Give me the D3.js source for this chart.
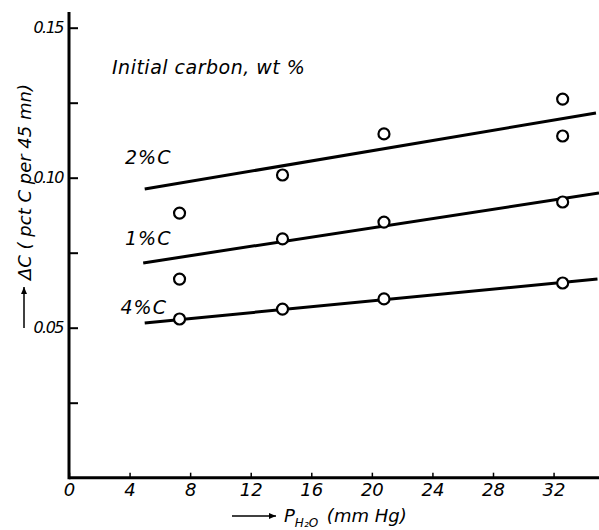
<!DOCTYPE html>
<html><head><meta charset="utf-8">
<script src="https://cdn.jsdelivr.net/npm/d3@7"></script>
<style>
html,body{margin:0;padding:0;background:#fff;}
svg{display:block;}
text{font-family:"DejaVu Sans","Liberation Sans",sans-serif;font-style:italic;fill:#000;}
</style></head>
<body><svg id="chart" width="599" height="530"></svg>
<script>
// ---- data ----
const xTicks = [0, 4, 8, 12, 16, 20, 24, 28, 32];
const yTicks = [0.025, 0.05, 0.075, 0.10, 0.125, 0.15];
const yTickLabels = {0.05: "0.05", 0.10: "0.10", 0.15: "0.15"};
const seriesNames = ["2%C", "1%C", "4%C"];
const pts2 = [[7.3, 0.0882], [14.1, 0.1009], [20.8, 0.1146], [32.6, 0.1262], [32.6, 0.1139]];
const pts1 = [[7.3, 0.0662], [14.1, 0.0796], [20.8, 0.0852], [32.6, 0.0919]];
const pts4 = [[7.3, 0.0529], [14.1, 0.0562], [20.8, 0.0596], [32.6, 0.0649]];
const fit2 = [[5.0, 0.0962], [34.8, 0.1216]];
const fit1 = [[4.9, 0.0716], [35.0, 0.0949]];
const fit4 = [[5.0, 0.0516], [34.9, 0.0662]];
const labelPos = [[3.7, 0.1045], [3.7, 0.0775], [3.4, 0.0545]];
const legendTitle = "Initial  carbon,  wt %";

// ---- scales ----
const svg = d3.select("#chart");
const x = d3.scaleLinear().domain([0, 35]).range([69, 599]);
const y = d3.scaleLinear().domain([0, 0.15]).range([477.7, 27.7]);

// axes
const xAxis = d3.axisBottom(x).tickValues(xTicks).tickSizeInner(-5).tickSizeOuter(0).tickPadding(8)
  .tickFormat(d3.format("d"));
const gx = svg.append("g").attr("transform", `translate(0,${y(0)})`).call(xAxis);
gx.select(".domain").attr("stroke", "#000").attr("stroke-width", 3).attr("d", `M${x(0)},0H599`);
gx.selectAll(".tick line").attr("stroke-width", 1.5);
gx.selectAll(".tick text").attr("font-size", 18).attr("dy", "0.55em");

const yAxis = d3.axisLeft(y).tickValues(yTicks).tickSizeInner(-9).tickSizeOuter(0).tickPadding(6)
  .tickFormat(d => yTickLabels[d] || "");
const gy = svg.append("g").attr("transform", `translate(${x(0)},0)`).call(yAxis);
gy.select(".domain").attr("stroke", "#000").attr("stroke-width", 3).attr("d", `M0,12V${y(0) + 1.5}`);
gy.selectAll(".tick line").attr("stroke-width", 2);
gy.selectAll(".tick text").attr("font-size", 16).attr("letter-spacing", "-1.5");

// fitted lines
const line = d3.line().x(d => x(d[0])).y(d => y(d[1]));
[fit2, fit1, fit4].forEach(f => {
  svg.append("path").attr("d", line(f)).attr("fill", "none").attr("stroke", "#000").attr("stroke-width", 3);
});

// points
[pts2, pts1, pts4].forEach(p => {
  svg.append("g").selectAll("circle").data(p).join("circle")
    .attr("cx", d => x(d[0])).attr("cy", d => y(d[1])).attr("r", 5.5)
    .attr("fill", "#fff").attr("stroke", "#000").attr("stroke-width", 2.2);
});

// series labels
svg.append("g").selectAll("text").data(seriesNames).join("text")
  .attr("x", (d, i) => x(labelPos[i][0])).attr("y", (d, i) => y(labelPos[i][1]))
  .attr("font-size", 19).attr("letter-spacing", "1").text(d => d);

// legend title
svg.append("text").attr("x", 112).attr("y", 74).attr("font-size", 19).attr("letter-spacing", "0.5").text(legendTitle);

// arrow helper
function arrow(g, x1, y1, x2, y2) {
  g.append("line").attr("x1", x1).attr("y1", y1).attr("x2", x2).attr("y2", y2)
    .attr("stroke", "#000").attr("stroke-width", 1.5);
  const ang = Math.atan2(y2 - y1, x2 - x1);
  const L = 7, W = 3;
  const p = [[x2, y2],
    [x2 - L * Math.cos(ang) + W * Math.sin(ang), y2 - L * Math.sin(ang) - W * Math.cos(ang)],
    [x2 - L * Math.cos(ang) - W * Math.sin(ang), y2 - L * Math.sin(ang) + W * Math.cos(ang)]];
  g.append("path").attr("d", "M" + p.join("L") + "Z").attr("fill", "#000");
}

// x label
const xl = svg.append("g");
arrow(xl, 232, 516, 276, 516);
const xt = xl.append("text").attr("x", 284).attr("y", 522).attr("font-size", 18);
xt.append("tspan").text("P");
xt.append("tspan").attr("font-size", 12).attr("dy", 5).text("H\u2082O");
xt.append("tspan").attr("dy", -5).attr("dx", 3).text(" (mm Hg)");

// y label
const yl = svg.append("g");
arrow(yl, 24, 328, 24, 287);
yl.append("text").attr("transform", "translate(31,280) rotate(-90)").attr("font-size", 18)
  .text("\u0394C ( pct  C  per  45 mn)");
</script></body></html>
